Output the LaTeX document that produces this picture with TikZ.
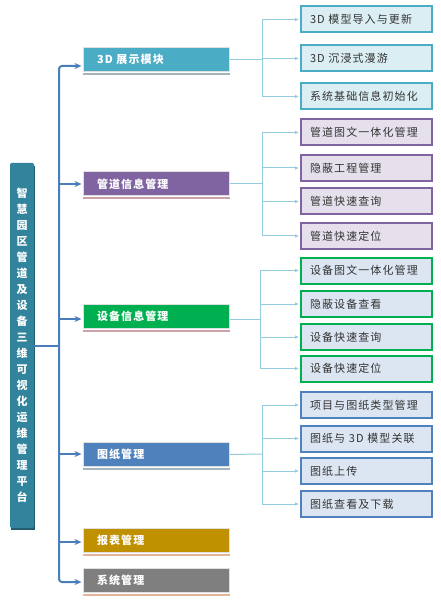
\documentclass[tikz,border=0pt]{standalone}
\usepackage{fontspec}
\setmainfont{Noto Sans CJK SC}
\newfontfamily\cjkwide[LetterSpace=10]{Noto Sans CJK SC}
\usetikzlibrary{arrows.meta}
\definecolor{rootc}{HTML}{31849B}
\definecolor{trunkc}{HTML}{4A7EBB}
\definecolor{branchc}{HTML}{93CDDD}
\definecolor{tealc}{HTML}{4BACC6}
\definecolor{tealf}{HTML}{DBEEF4}
\definecolor{purc}{HTML}{8064A2}
\definecolor{purf}{HTML}{E6E0EC}
\definecolor{grnc}{HTML}{00B050}
\definecolor{bluec}{HTML}{4F81BD}
\definecolor{bluef}{HTML}{DCE6F2}
\definecolor{goldc}{HTML}{BF9000}
\definecolor{grayc}{HTML}{7F7F7F}
\definecolor{txtc}{HTML}{333333}
\definecolor{shgray}{HTML}{A5B4BA}
\definecolor{shpink}{HTML}{C9A3A8}
\definecolor{shsalm}{HTML}{E3B49A}
\tikzset{
  lone/.style={draw=black!12, line width=1pt, fill=#1, text=white,
    minimum width=146pt, minimum height=24pt, inner ysep=0pt,
    inner xsep=14pt, text width=118pt, align=left,
    font=\cjkwide\fontsize{11}{13}\selectfont\bfseries},
  ltwo/.style n args={2}{draw=#1, fill=#2, line width=2pt, text=txtc,
    minimum width=131pt, minimum height=26pt, inner ysep=0pt,
    inner xsep=9pt, text width=113pt, align=left,
    font=\cjkwide\fontsize{11}{13}\selectfont},
  trunk/.style={draw=trunkc, line width=2pt},
  tarrow/.style={trunk, -{Stealth[length=7pt,width=6pt]}},
  branch/.style={draw=branchc, line width=1pt},
  barrow/.style={branch, -{Latex[length=4pt,width=3.5pt]}},
  shline/.style={draw=#1, line width=2pt},
}
\begin{document}
\begin{tikzpicture}[x=1pt,y=-1pt]
\useasboundingbox[fill=white] (0,0) rectangle (440,601);

% root
\fill[rootc!70!black] (11,166) rectangle (35,530);
\node[fill=rootc, rounded corners=1.5pt, minimum width=24pt, minimum height=365pt,
  inner sep=0pt, text=white, align=center,
  font=\fontsize{11}{16}\selectfont\bfseries] (root) at (22,345.5)
  {智\\慧\\园\\区\\管\\道\\及\\设\\备\\三\\维\\可\\视\\化\\运\\维\\管\\理\\平\\台};

% level one
\node[lone=tealc]  (b1) at (156,59.5)  {3D 展示模块};
\node[lone=purc]   (b2) at (156,184)   {管道信息管理};
\node[lone=grnc]   (b3) at (156,316.5) {设备信息管理};
\node[lone=bluec]  (b4) at (156,454.5) {图纸管理};
\node[lone=goldc]  (b5) at (156,540)   {报表管理};
\node[lone=grayc]  (b6) at (156,580)   {系统管理};

\draw[shline=shgray] ([yshift=-2pt]b1.south west) -- ([yshift=-2pt]b1.south east);
\draw[shline=shpink] ([yshift=-2pt]b2.south west) -- ([yshift=-2pt]b2.south east);
\draw[shline=shpink] ([yshift=-2pt]b3.south west) -- ([yshift=-2pt]b3.south east);
\draw[shline=shgray] ([yshift=-2pt]b4.south west) -- ([yshift=-2pt]b4.south east);
\draw[shline=shsalm] ([yshift=-2pt]b5.south west) -- ([yshift=-2pt]b5.south east);
\draw[shline=shsalm] ([yshift=-2pt]b6.south west) -- ([yshift=-2pt]b6.south east);

% trunk
\coordinate (j1) at (59,66);
\coordinate (j2) at (59,184);
\coordinate (j3) at (59,319);
\coordinate (j4) at (59,454);
\coordinate (j5) at (59,542);
\coordinate (j6) at (59,582);
\coordinate (jr) at (59,345.5);
\draw[trunk, rounded corners=3pt, {Stealth[length=7pt,width=6pt]}-{Stealth[length=7pt,width=6pt]}]
  ([xshift=-1pt]b1.west |- j1) -- (j1) -- (j6) -- ([xshift=-1pt]b6.west |- j6);
\draw[tarrow] (j2) -- ([xshift=-1pt]b2.west |- j2);
\draw[tarrow] (j3) -- ([xshift=-1pt]b3.west |- j3);
\draw[tarrow] (j4) -- ([xshift=-1pt]b4.west |- j4);
\draw[tarrow] (j5) -- ([xshift=-1pt]b5.west |- j5);
\draw[trunk] (root.east |- jr) -- (jr);

% level two
\node[ltwo={tealc}{tealf}] (c11) at (366.5,19.5)  {3D 模型导入与更新};
\node[ltwo={tealc}{tealf}] (c12) at (366.5,58.5)  {3D 沉浸式漫游};
\node[ltwo={tealc}{tealf}] (c13) at (366.5,96.5)  {系统基础信息初始化};
\node[ltwo={purc}{purf}]   (c21) at (366.5,132.5) {管道图文一体化管理};
\node[ltwo={purc}{purf}]   (c22) at (366.5,168)   {隐蔽工程管理};
\node[ltwo={purc}{purf}]   (c23) at (366.5,201.5) {管道快速查询};
\node[ltwo={purc}{purf}]   (c24) at (366.5,236)   {管道快速定位};
\node[ltwo={grnc}{bluef}]  (c31) at (366.5,270.5) {设备图文一体化管理};
\node[ltwo={grnc}{bluef}]  (c32) at (366.5,304)   {隐蔽设备查看};
\node[ltwo={grnc}{bluef}]  (c33) at (366.5,337)   {设备快速查询};
\node[ltwo={grnc}{bluef}]  (c34) at (366.5,368.5) {设备快速定位};
\node[ltwo={bluec}{bluef}] (c41) at (366.5,405)   {项目与图纸类型管理};
\node[ltwo={bluec}{bluef}] (c42) at (366.5,438.5) {图纸与 3D 模型关联};
\node[ltwo={bluec}{bluef}] (c43) at (366.5,471)   {图纸上传};
\node[ltwo={bluec}{bluef}] (c44) at (366.5,504)   {图纸查看及下载};

% branches
\coordinate (g1) at (262,59.5);
\coordinate (g2) at (262,184);
\coordinate (g3) at (260,319);
\coordinate (g4) at (262,454);
\draw[branch] (b1.east) -- (g1);
\draw[branch] (b2.east) -- (g2);
\draw[branch] ([yshift=-2.5pt]b3.east) -- (g3);
\draw[branch] (b4.east) -- (g4);
\draw[branch] (g1 |- c11) -- (g1 |- c13);
\draw[branch] (g2 |- c21) -- (g2 |- c24);
\draw[branch] (g3 |- c31) -- (g3 |- c34);
\draw[branch] (g4 |- c41) -- (g4 |- c44);
\foreach \c in {c11,c12,c13} \draw[barrow] (g1 |- \c) -- ([xshift=-1pt]\c.west);
\foreach \c in {c21,c22,c23,c24} \draw[barrow] (g2 |- \c) -- ([xshift=-1pt]\c.west);
\foreach \c in {c31,c32,c33,c34} \draw[barrow] (g3 |- \c) -- ([xshift=-1pt]\c.west);
\foreach \c in {c41,c42,c43,c44} \draw[barrow] (g4 |- \c) -- ([xshift=-1pt]\c.west);
\end{tikzpicture}
\end{document}
